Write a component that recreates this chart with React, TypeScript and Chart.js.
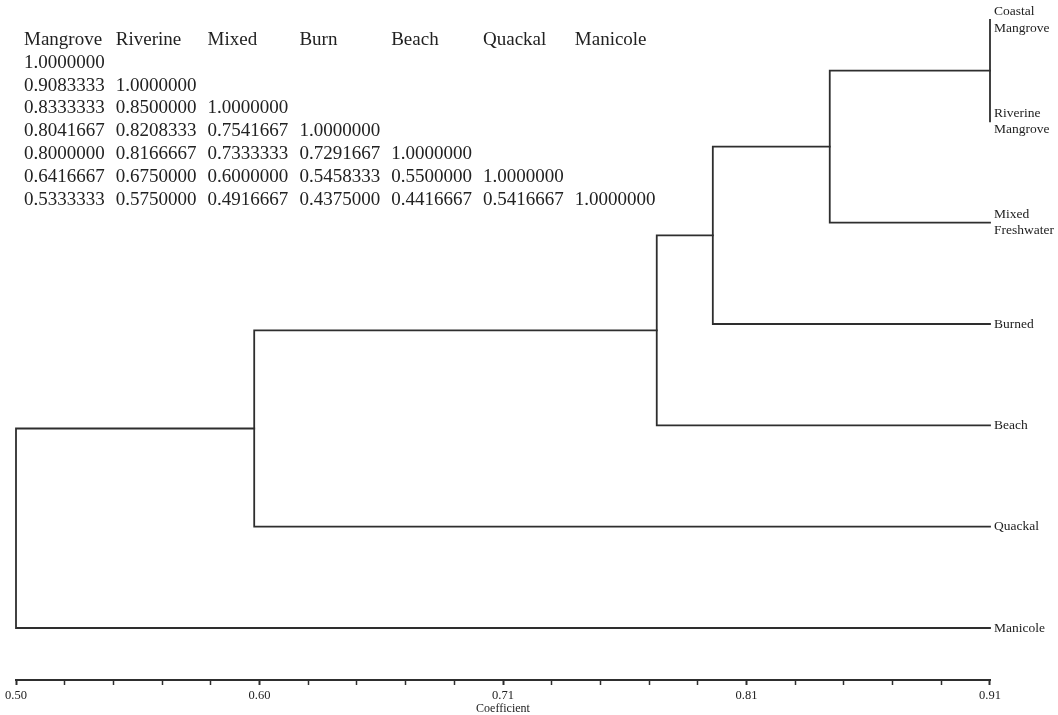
import React, { useEffect, useRef } from "react";
import { Chart, registerables } from "chart.js";

Chart.register(...registerables);

// ---- data ----
const leafLabels: string[][] = [
  ["Coastal", "Mangrove"],
  ["Riverine", "Mangrove"],
  ["Mixed", "Freshwater"],
  ["Burned"],
  ["Beach"],
  ["Quackal"],
  ["Manicole"],
];
// level at which leaves sit (right end of the axis)
const leafLevel = 0.9083;
// successive join levels: (Coastal+Riverine), +Mixed, +Burned, +Beach, +Quackal, +Manicole
const mergeHeights = [0.9083, 0.8417, 0.7931, 0.7698, 0.6025, 0.5035];
const tickLabels = ["0.50", "0.60", "0.71", "0.81", "0.91"];
const axisTitle = "Coefficient";

const tableHeaders = ["Mangrove", "Riverine", "Mixed", "Burn", "Beach", "Quackal", "Manicole"];
const rowMangrove = [1.0];
const rowRiverine = [0.9083333, 1.0];
const rowMixed = [0.8333333, 0.85, 1.0];
const rowBurn = [0.8041667, 0.8208333, 0.7541667, 1.0];
const rowBeach = [0.8, 0.8166667, 0.7333333, 0.7291667, 1.0];
const rowQuackal = [0.6416667, 0.675, 0.6, 0.5458333, 0.55, 1.0];
const rowManicole = [0.5333333, 0.575, 0.4916667, 0.4375, 0.4416667, 0.5416667, 1.0];
const tableRows = [rowMangrove, rowRiverine, rowMixed, rowBurn, rowBeach, rowQuackal, rowManicole];

const SERIF = "'Liberation Serif', 'Times New Roman', 'DejaVu Serif', serif";
const INK = "#222222";
const LINE = "#2e2e2e";

function buildDatasets() {
  const sets: any[] = [];
  let prevY = 0;
  let prevH = leafLevel;
  mergeHeights.forEach((h, k) => {
    const leafIdx = k + 1;
    sets.push({
      data: [
        { x: prevH, y: prevY },
        { x: h, y: prevY },
        { x: h, y: leafIdx },
        { x: leafLevel, y: leafIdx },
      ],
      showLine: true,
      borderColor: LINE,
      borderWidth: 1.8,
      pointRadius: 0,
      pointHoverRadius: 0,
      tension: 0,
      fill: false,
      clip: false,
      borderCapStyle: "square",
      borderJoinStyle: "miter",
    });
    prevY = (prevY + leafIdx) / 2;
    prevH = h;
  });
  return sets;
}

const tablePlugin = {
  id: "simTable",
  afterDraw(chart: any) {
    const ctx = chart.ctx as CanvasRenderingContext2D;
    ctx.save();
    ctx.font = `19px ${SERIF}`;
    ctx.fillStyle = INK;
    ctx.textAlign = "left";
    ctx.textBaseline = "middle";
    const x0 = 24;
    const dx = 91.8;
    const y0 = 40;
    const dy = 22.8;
    tableHeaders.forEach((h, c) => ctx.fillText(h, x0 + c * dx, y0));
    tableRows.forEach((row, r) => {
      row.forEach((v, c) => {
        ctx.fillText(v.toFixed(7), x0 + c * dx, y0 + (r + 1) * dy);
      });
    });
    ctx.restore();
  },
};

export default function App() {
  const canvasRef = useRef<HTMLCanvasElement | null>(null);

  useEffect(() => {
    if (!canvasRef.current) return;
    const xMin = mergeHeights[mergeHeights.length - 1];
    const xMax = leafLevel;
    const nLeaves = leafLabels.length;
    const chart = new Chart(canvasRef.current, {
      type: "scatter",
      data: { datasets: buildDatasets() },
      plugins: [tablePlugin],
      options: {
        animation: false,
        responsive: false,
        events: [],
        layout: { padding: { left: 16, top: 20, right: 0, bottom: 0 } },
        plugins: {
          legend: { display: false },
          tooltip: { enabled: false },
        },
        scales: {
          x: {
            type: "linear",
            position: "bottom",
            min: xMin,
            max: xMax,
            afterFit: (scale: any) => {
              scale.height = 35;
            },
            afterBuildTicks: (scale: any) => {
              const n = (tickLabels.length - 1) * 5;
              const t: any[] = [];
              for (let i = 0; i <= n; i++) t.push({ value: xMin + ((xMax - xMin) * i) / n });
              scale.ticks = t;
            },
            border: { display: true, color: LINE, width: 2 },
            grid: {
              display: true,
              drawOnChartArea: false,
              drawTicks: true,
              tickLength: 5,
              tickColor: LINE,
              tickWidth: (c: any) => (c.index % 5 === 0 ? 2 : 1.5),
            },
            ticks: {
              autoSkip: false,
              maxRotation: 0,
              padding: 3,
              color: INK,
              font: { family: SERIF, size: 12.5 },
              callback: (_v: any, i: number) => (i % 5 === 0 ? tickLabels[i / 5] : ""),
            },
            title: {
              display: true,
              text: axisTitle,
              color: INK,
              font: { family: SERIF, size: 12, lineHeight: 1 },
              padding: { top: 0, bottom: 0 },
            },
          },
          y: {
            type: "linear",
            position: "right",
            reverse: true,
            min: 0,
            max: nLeaves - 1 + 0.513,
            afterFit: (scale: any) => {
              scale.width = 68;
            },
            afterBuildTicks: (scale: any) => {
              scale.ticks = leafLabels.map((_, i) => ({ value: i }));
            },
            border: { display: false },
            grid: { display: false, drawTicks: false },
            ticks: {
              autoSkip: false,
              padding: 4,
              color: INK,
              font: { family: SERIF, size: 13.5, lineHeight: 1.2 },
              callback: (v: any) => leafLabels[Math.round(Number(v))] ?? "",
            },
          },
        },
      },
    } as any);
    return () => chart.destroy();
  }, []);

  return (
    <div style={{ position: "absolute", left: 0, top: 0, width: 1058, height: 715, background: "#fff" }}>
      <canvas ref={canvasRef} width={1058} height={715} style={{ display: "block" }} />
    </div>
  );
}
